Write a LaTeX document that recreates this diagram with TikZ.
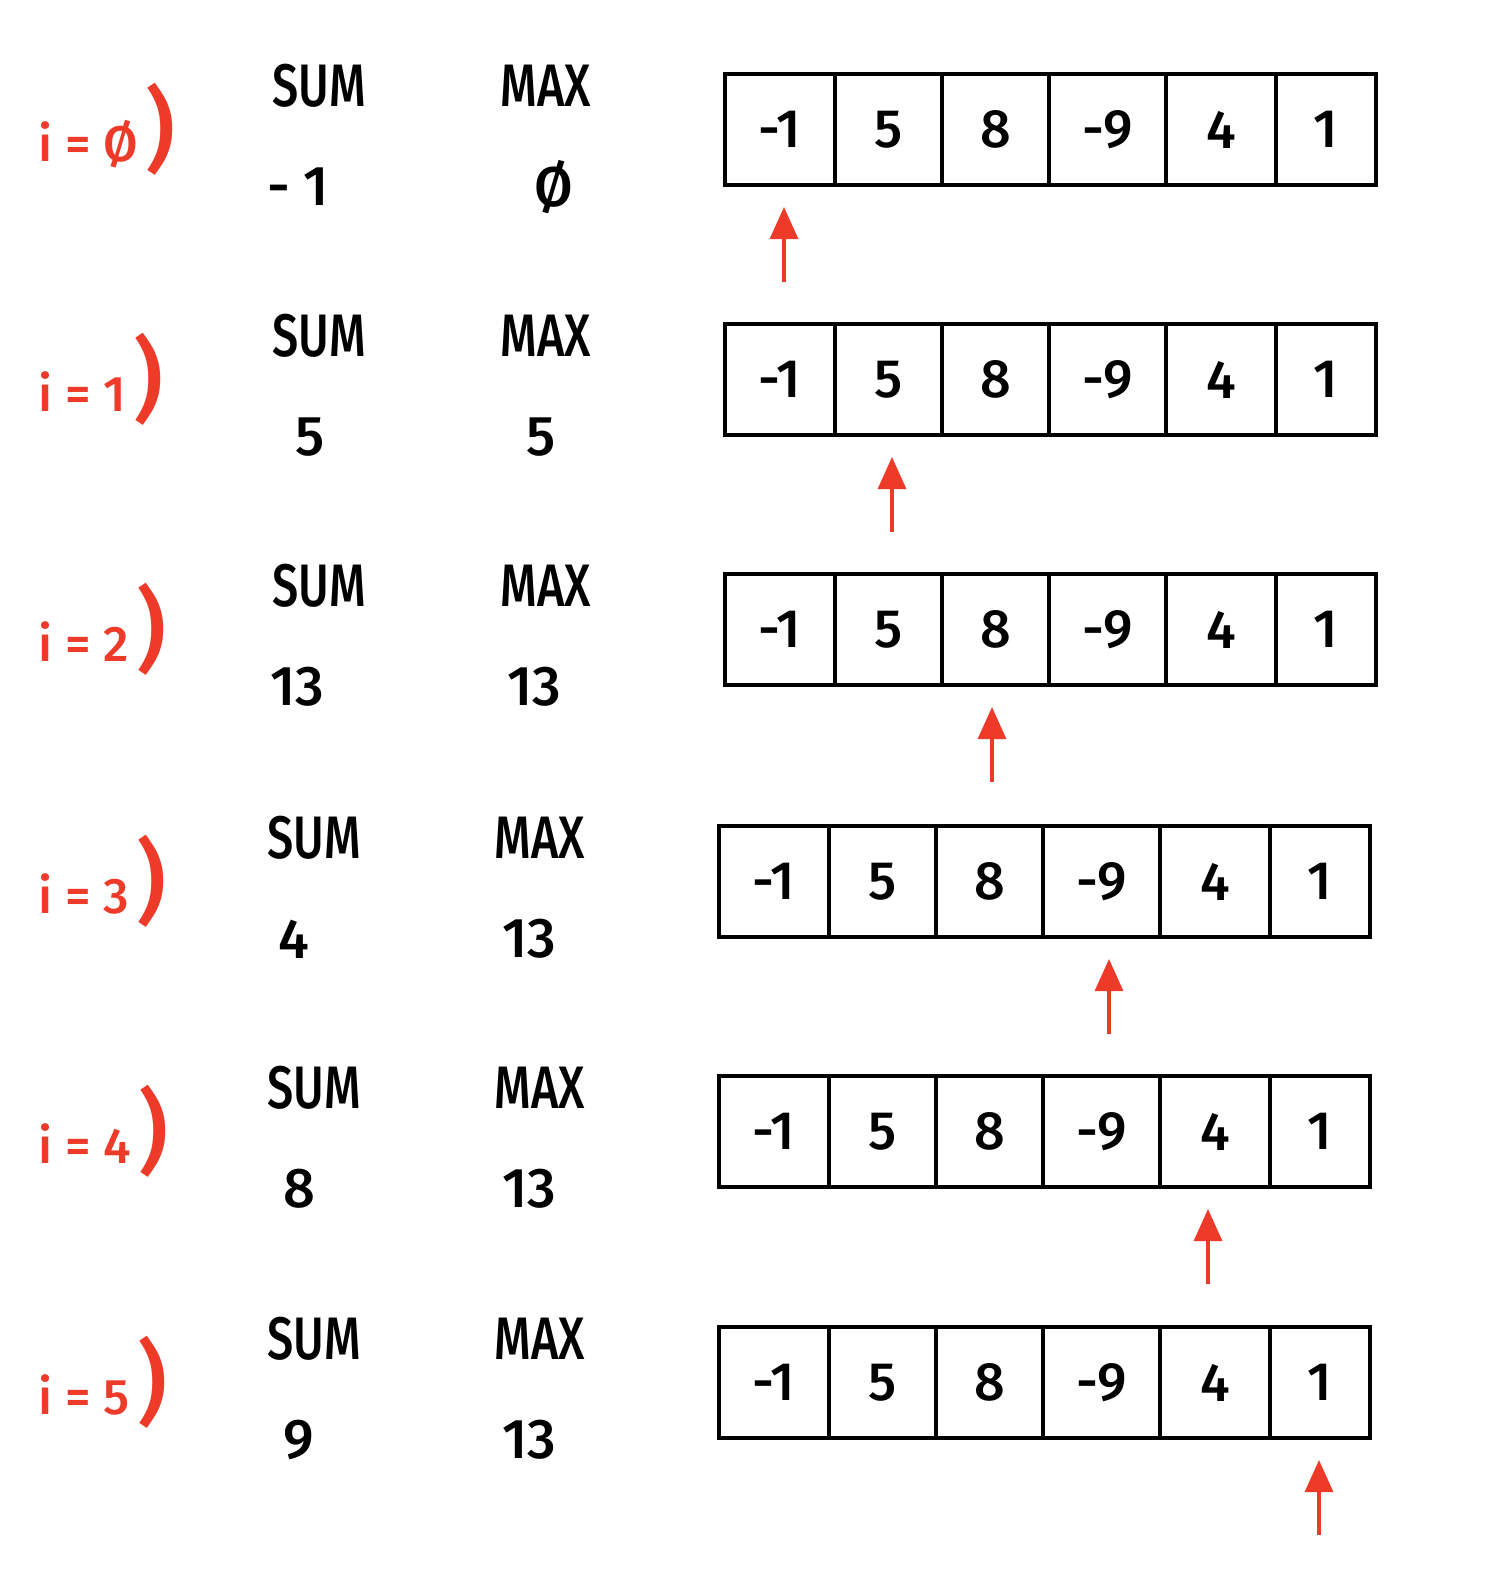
\documentclass[tikz,border=0pt]{standalone}
\usepackage{fontspec}
\setmainfont{Fira Sans Medium}
\usepackage{graphicx}
\usetikzlibrary{arrows.meta}
\definecolor{pen}{RGB}{238,58,40}
\begin{document}
\begin{tikzpicture}[x=0.5pt,y=-0.5pt,
  cell/.style={draw,line width=2pt,inner sep=0pt,minimum height=55.5pt,
    font=\fontsize{27}{29}\selectfont},
  head/.style={inner sep=0pt,font=\fontsize{30}{32}\selectfont},
  val/.style={inner sep=0pt,font=\fontsize{28}{30}\selectfont},
  lbl/.style={inner sep=0pt,text=pen,font=\fontsize{25}{27}\selectfont},
  ptr/.style={draw=pen,line width=1.6pt,-{Triangle[width=14pt,length=16pt]},shorten >=10pt}]
\useasboundingbox (0,0) rectangle (1484,1580);
\foreach \r/\top/\dx/\il/\sv/\mv/\p/\ax/\sx/\mx/\vx/\wx in {
  0/74/0/Ø/- 1/Ø/1/784/319/546/298/554,
  1/324/0/1/5/5/2/892/319/546/310/541,
  2/574/0/2/13/13/3/992/319/546/297/534,
  3/826/-6/3/4/13/4/1109/314/540/294/529,
  4/1076/-6/4/8/13/5/1208/314/540/299/529,
  5/1327/-6/5/9/13/6/1319/314/540/299/529}{
  \foreach \a/\b/\v [count=\k] in {725/835/-1,835/942/5,942/1049/8,1049/1166/-9,1166/1276/4,1276/1376/1}{
    \node[cell,minimum width={(\b-\a)*0.5pt}] (c\r-\k) at ({(\a+\b)/2+\dx},{\top+55.5}) {\v};
  }
  \node[lbl,anchor=west] (i\r) at (38,{\top+55}) {i = \il\,{\fontsize{46}{46}\selectfont)}};
  \node[head] (s\r) at (\sx,{\top+12}) {\scalebox{0.78}[1]{SUM}};
  \node[head] (m\r) at (\mx,{\top+12}) {\scalebox{0.78}[1]{MAX}};
  \node[val] (sv\r) at (\vx,{\top+113}) {\sv};
  \node[val] (mv\r) at (\wx,{\top+113}) {\mv};
  \coordinate (t\r) at (\ax,{\top+208});
  \draw[ptr] (t\r) -- (t\r |- c\r-\p.south);
}
\end{tikzpicture}
\end{document}
